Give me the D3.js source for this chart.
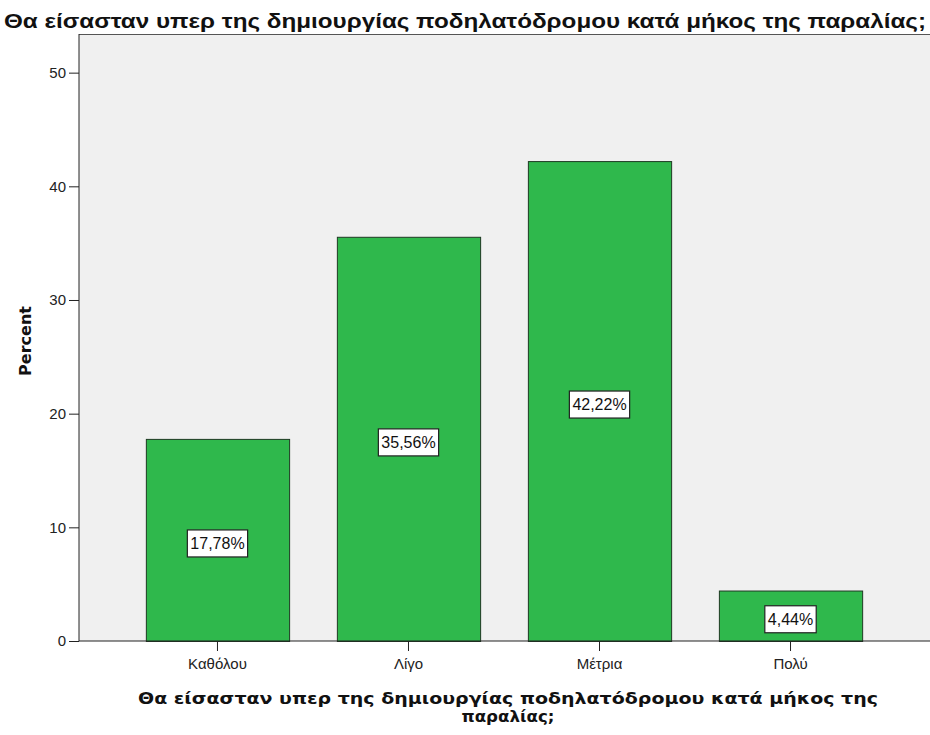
<!DOCTYPE html>
<html>
<head>
<meta charset="utf-8">
<script src="https://cdn.jsdelivr.net/npm/d3@7"></script>
<style>
  body { margin: 0; background: #fff; }
  text { font-family: "Liberation Sans", Arial, sans-serif; }
</style>
</head>
<body>
<svg id="chart"></svg>
<script>
const categories = ["Καθόλου", "Λίγο", "Μέτρια", "Πολύ"];
const percents = [17.78, 35.56, 42.22, 4.44];
const labels = ["17,78%", "35,56%", "42,22%", "4,44%"];
const yTicks = [0, 10, 20, 30, 40, 50];

const WIDTH = 930;
const HEIGHT = 735;
const PLOT_L = 79, PLOT_R = 929, PLOT_T = 34, PLOT_B = 641;

let svg = d3.select('#chart').attr('width', WIDTH).attr('height', HEIGHT);

let x = d3.scaleBand().domain(categories).range([PLOT_L, PLOT_R])
  .paddingInner(0.25).paddingOuter(0.35);
let y = d3.scaleLinear().domain([0, 53.4]).range([PLOT_B, PLOT_T]);

// plot background
svg.append('rect').attr('x', PLOT_L).attr('y', PLOT_T)
  .attr('width', WIDTH - PLOT_L).attr('height', PLOT_B - PLOT_T)
  .attr('fill', '#f0f0f0');
svg.append('line').attr('x1', PLOT_L).attr('x2', WIDTH).attr('y1', PLOT_T + 0.5).attr('y2', PLOT_T + 0.5)
  .attr('stroke', '#555').attr('stroke-width', 1);

// bars
svg.selectAll('.bar').data(percents).join('rect')
  .attr('class', 'bar')
  .attr('x', (d, i) => x(categories[i]) + 0.5)
  .attr('y', d => y(d) + 0.5)
  .attr('width', x.bandwidth())
  .attr('height', d => y(0) - y(d))
  .attr('fill', '#2fb84c')
  .attr('stroke', '#1e3a22').attr('stroke-width', 1);

// value labels
let lab = svg.selectAll('.lab').data(percents).join('g')
  .attr('class', 'lab')
  .attr('transform', (d, i) => `translate(${x(categories[i]) + x.bandwidth() / 2}, ${y(d / 2) + 3})`);
let boxes = lab.append('rect')
  .attr('fill', '#fff').attr('stroke', '#222').attr('stroke-width', 1.2);
let labTexts = lab.append('text').text((d, i) => labels[i])
  .attr('text-anchor', 'middle').attr('dy', 6)
  .attr('font-size', 16).attr('fill', '#111');
labTexts.each(function(d, i) {
  const w = this.getComputedTextLength() + 6;
  d3.select(boxes.nodes()[i])
    .attr('x', -w / 2).attr('y', -13).attr('width', w).attr('height', 27);
});

// y axis
let yAxis = svg.append('g').attr('transform', `translate(${PLOT_L},0)`)
  .call(d3.axisLeft(y).tickValues(yTicks).tickSize(10).tickPadding(3));
yAxis.select('.domain').remove();
yAxis.append('line').attr('y1', PLOT_T).attr('y2', PLOT_B).attr('stroke', '#222');
yAxis.selectAll('text').attr('font-size', 15).attr('fill', '#222')
  .style('font-family', '"Liberation Sans", Arial, sans-serif');
yAxis.selectAll('.tick line').attr('stroke', '#222');

// x axis
let xAxis = svg.append('g').attr('transform', `translate(0,${PLOT_B})`)
  .call(d3.axisBottom(x).tickSize(10).tickPadding(7));
xAxis.select('.domain').remove();
xAxis.append('line').attr('x1', PLOT_L).attr('x2', WIDTH).attr('stroke', '#222');
xAxis.selectAll('text').attr('font-size', 15).attr('fill', '#222')
  .style('font-family', '"Liberation Sans", Arial, sans-serif');
xAxis.selectAll('.tick line').attr('stroke', '#222');

// titles
svg.append('text').text('Θα είσασταν υπερ της δημιουργίας ποδηλατόδρομου κατά μήκος της παραλίας;')
  .attr('x', 465).attr('y', 28).attr('text-anchor', 'middle')
  .attr('font-size', 20).attr('font-weight', 'bold').attr('fill', '#111')
  .attr('textLength', 922).attr('lengthAdjust', 'spacingAndGlyphs');

svg.append('text').text('Percent')
  .attr('transform', 'translate(31,341) rotate(-90)').attr('text-anchor', 'middle')
  .style('font-family', '"DejaVu Sans", sans-serif')
  .attr('font-size', 16).attr('font-weight', 'bold').attr('fill', '#111');

svg.append('text').text('Θα είσασταν υπερ της δημιουργίας ποδηλατόδρομου κατά μήκος της')
  .attr('x', 508).attr('y', 704).attr('text-anchor', 'middle')
  .style('font-family', '"DejaVu Sans", sans-serif')
  .attr('font-size', 16).attr('font-weight', 'bold').attr('fill', '#111')
  .attr('textLength', 740).attr('lengthAdjust', 'spacingAndGlyphs');
svg.append('text').text('παραλίας;')
  .attr('x', 508).attr('y', 722).attr('text-anchor', 'middle')
  .style('font-family', '"DejaVu Sans", sans-serif')
  .attr('font-size', 16).attr('font-weight', 'bold').attr('fill', '#111')
  .attr('textLength', 93).attr('lengthAdjust', 'spacingAndGlyphs');
</script>
</body>
</html>
